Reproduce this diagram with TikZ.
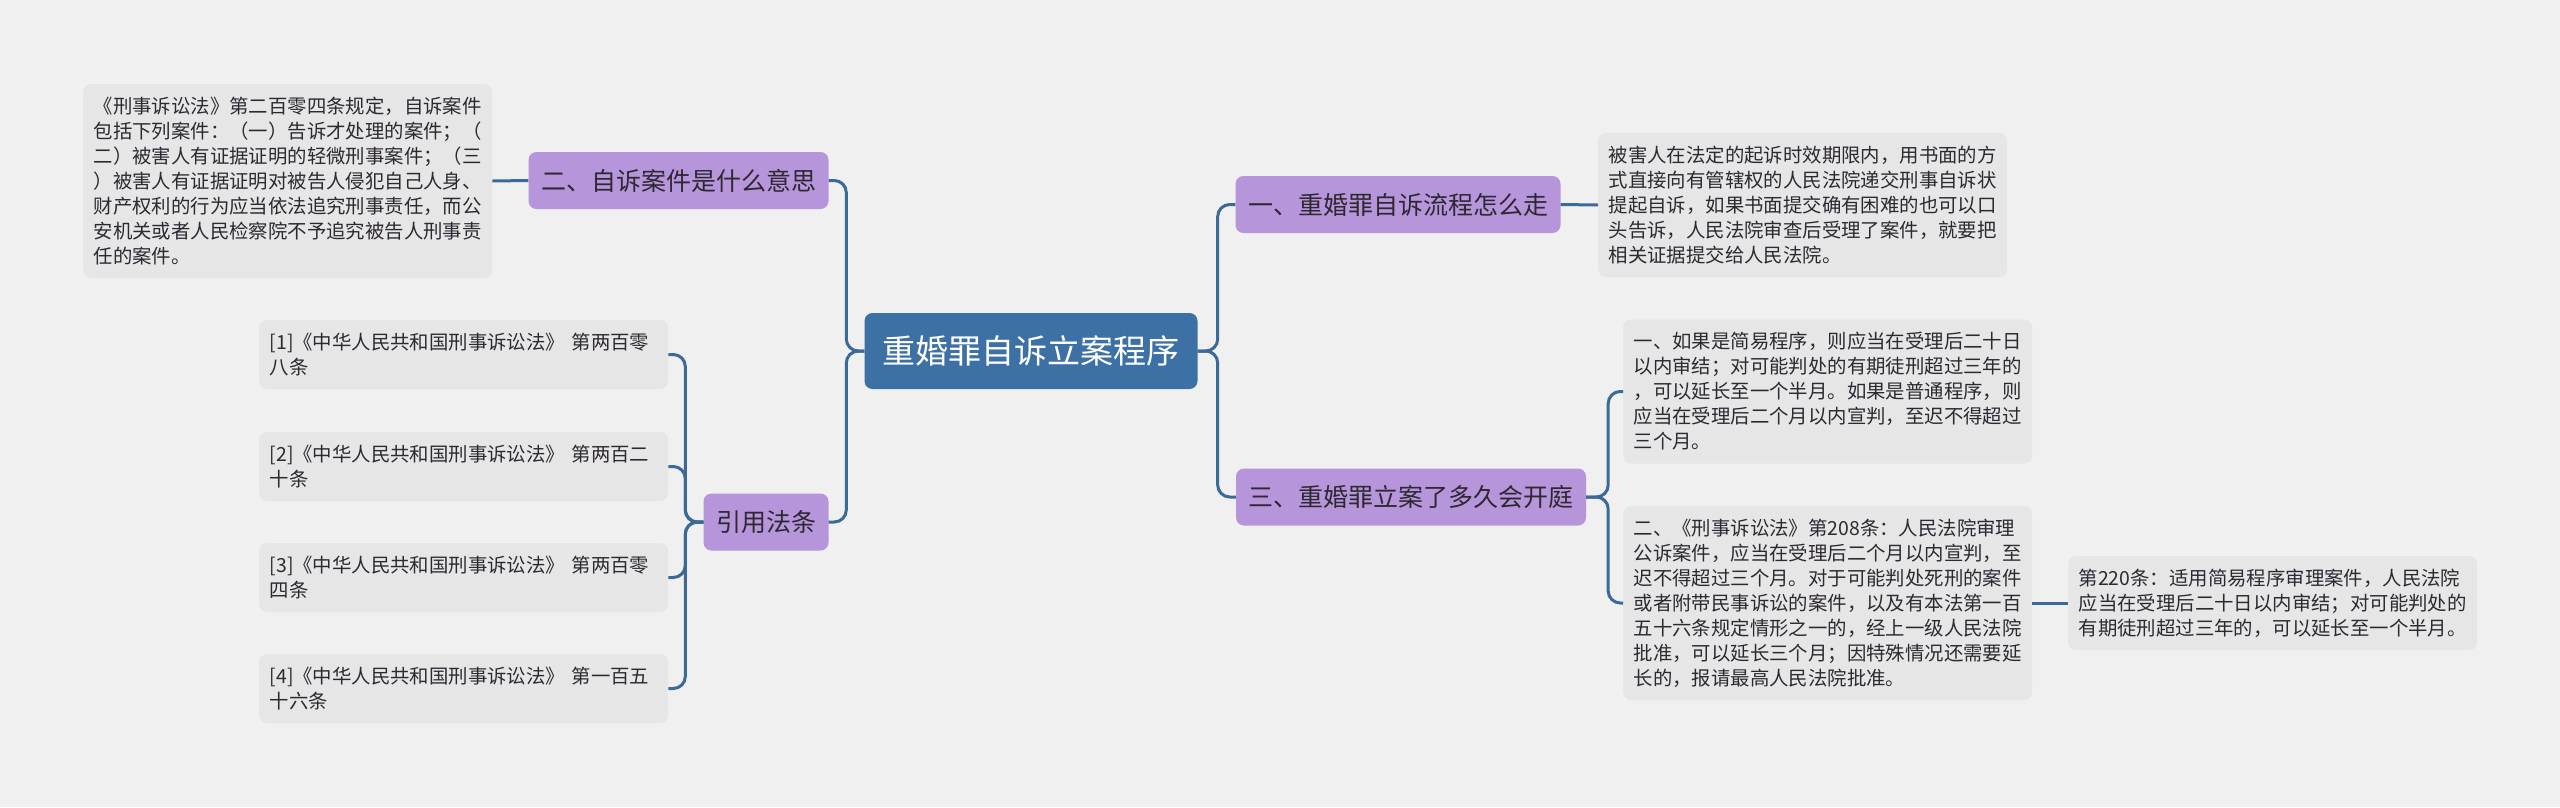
\documentclass[tikz,border=0pt]{standalone}
\usepackage{fontspec}
\setmainfont{Noto Sans CJK SC}

\definecolor{bgpaper}{RGB}{240,240,240}
\definecolor{rootblue}{RGB}{61,113,166}
\definecolor{topicpurple}{RGB}{183,149,218}
\definecolor{leafgray}{RGB}{230,230,230}
\definecolor{linkblue}{RGB}{59,106,153}
\definecolor{inkdark}{RGB}{45,40,50}

\tikzset{
  root/.style={fill=rootblue, rounded corners=8pt, text=white, inner xsep=18pt,
    minimum height=76pt, font=\fontsize{33}{36}\selectfont},
  topic/.style={fill=topicpurple, rounded corners=8pt, text=inkdark, inner xsep=12.5pt,
    minimum height=57pt, font=\fontsize{25}{28}\selectfont},
  leaf/.style={fill=leafgray, rounded corners=8pt, text=inkdark, align=left,
    text width=388pt, inner xsep=10.5pt, anchor=west,
    font=\fontsize{19.4}{25}\selectfont},
  link/.style={draw=linkblue, line width=3pt, rounded corners=12pt},
}

\begin{document}
\begin{tikzpicture}[x=1pt,y=-1pt]

	% fond
	\fill[bgpaper] (0,0) rectangle (2560,807);
	\useasboundingbox (0,0) rectangle (2560,807);

	% noeud central
	\node[root] (main) at (1031,351) {重婚罪自诉立案程序};

	% branches de gauche
	\node[topic] (whatis) at (678.5,180.5) {二、自诉案件是什么意思};
	\node[topic] (cite) at (766,522) {引用法条};

	% branches de droite
	\node[topic] (flow) at (1398,204.5) {一、重婚罪自诉流程怎么走};
	\node[topic] (trial) at (1411,497) {三、重婚罪立案了多久会开庭};

	% feuilles de gauche
	\node[leaf, minimum height=194pt] (law204) at (83,181) {《刑事诉讼法》第二百零四条规定，自诉案件\\
包括下列案件：（一）告诉才处理的案件；（\\
二）被害人有证据证明的轻微刑事案件；（三\\
）被害人有证据证明对被告人侵犯自己人身、\\
财产权利的行为应当依法追究刑事责任，而公\\
安机关或者人民检察院不予追究被告人刑事责\\
任的案件。};

	\node[leaf, minimum height=69pt] (ref1) at (259,354.5) {[1]《中华人民共和国刑事诉讼法》 第两百零\\八条};
	\node[leaf, minimum height=69pt] (ref2) at (259,466.5) {[2]《中华人民共和国刑事诉讼法》 第两百二\\十条};
	\node[leaf, minimum height=69pt] (ref3) at (259,577.5) {[3]《中华人民共和国刑事诉讼法》 第两百零\\四条};
	\node[leaf, minimum height=69pt] (ref4) at (259,688.5) {[4]《中华人民共和国刑事诉讼法》 第一百五\\十六条};

	% feuilles de droite
	\node[leaf, minimum height=144pt] (sue) at (1598,205) {被害人在法定的起诉时效期限内，用书面的方\\
式直接向有管辖权的人民法院递交刑事自诉状\\
提起自诉，如果书面提交确有困难的也可以口\\
头告诉，人民法院审查后受理了案件，就要把\\
相关证据提交给人民法院。};

	\node[leaf, minimum height=144pt] (simple) at (1623,391.5) {一、如果是简易程序，则应当在受理后二十日\\
以内审结；对可能判处的有期徒刑超过三年的\\
，可以延长至一个半月。如果是普通程序，则\\
应当在受理后二个月以内宣判，至迟不得超过\\
三个月。};

	\node[leaf, minimum height=194pt] (art208) at (1623,603) {二、《刑事诉讼法》第208条：人民法院审理\\
公诉案件，应当在受理后二个月以内宣判，至\\
迟不得超过三个月。对于可能判处死刑的案件\\
或者附带民事诉讼的案件，以及有本法第一百\\
五十六条规定情形之一的，经上一级人民法院\\
批准，可以延长三个月；因特殊情况还需要延\\
长的，报请最高人民法院批准。};

	\node[leaf, minimum height=94pt] (art220) at (2068,603) {第220条：适用简易程序审理案件，人民法院\\
应当在受理后二十日以内审结；对可能判处的\\
有期徒刑超过三年的，可以延长至一个半月。};

	% liens du centre
	\draw[link] (main.west) -- ++(-18,0) |- (whatis.east);
	\draw[link] (main.west) -- ++(-18,0) |- (cite.east);
	\draw[link] (main.east) -- ++(20,0) |- (flow.west);
	\draw[link] (main.east) -- ++(20,0) |- (trial.west);

	% liens vers les feuilles
	\draw[link] (whatis.west) -- (law204.east);
	\draw[link] (flow.east) -- (sue.west);
	\draw[link] (trial.east) -- ++(22,0) |- (simple.west);
	\draw[link] (trial.east) -- ++(22,0) |- (art208.west);
	\draw[link] (art208.east) -- (art220.west);
	\draw[link] (cite.west) -- ++(-18,0) |- (ref1.east);
	\draw[link] (cite.west) -- ++(-18,0) |- (ref2.east);
	\draw[link] (cite.west) -- ++(-18,0) |- (ref3.east);
	\draw[link] (cite.west) -- ++(-18,0) |- (ref4.east);

\end{tikzpicture}
\end{document}
